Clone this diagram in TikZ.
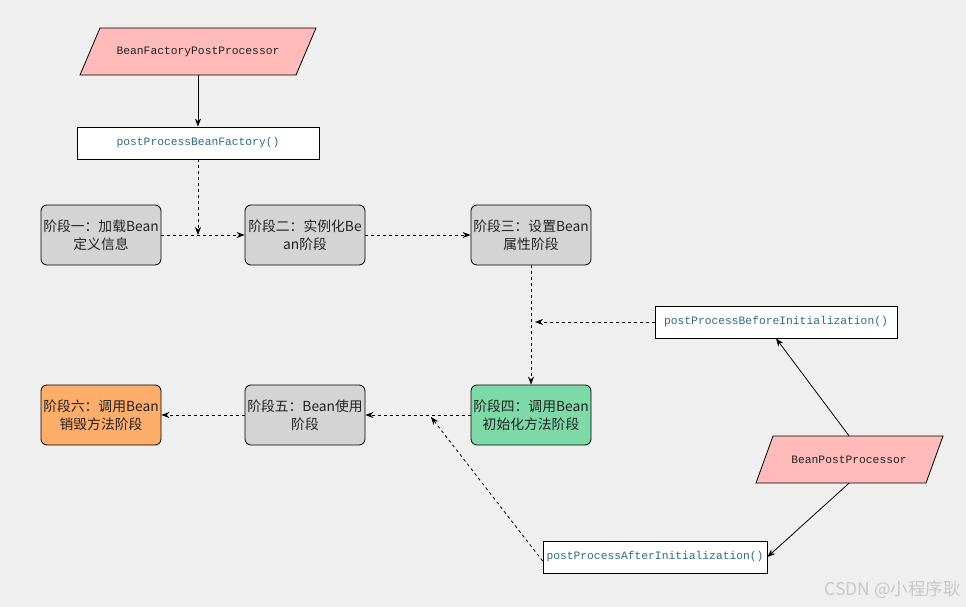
\documentclass[tikz,border=0pt]{standalone}
\usepackage{fontspec}
\setmainfont{Noto Sans CJK SC}
\setmonofont{Liberation Mono}
\usetikzlibrary{arrows.meta}
\definecolor{bgc}{HTML}{EFEFEF}
\definecolor{pinkc}{HTML}{FFBABA}
\definecolor{grayc}{HTML}{D4D4D4}
\definecolor{greenc}{HTML}{7DDAA8}
\definecolor{orangec}{HTML}{FFAD6A}
\definecolor{tealc}{HTML}{2D6C84}
\definecolor{txtc}{HTML}{222222}
\definecolor{wmc}{HTML}{C8C8C8}
\tikzset{
  stage/.style={draw=black, line width=0.8pt, rounded corners=6pt, minimum width=120pt, minimum height=60pt, inner sep=0pt, align=center, text=txtc, font=\fontsize{13.8}{18}\selectfont},
  method/.style={draw=black, fill=white, line width=0.8pt, minimum height=32pt, inner sep=0pt, text=tealc, font=\ttfamily\fontsize{11.3}{13}\selectfont},
  paratext/.style={inner sep=0pt, minimum height=47pt, text=txtc, font=\ttfamily\fontsize{11.3}{13}\selectfont},
  para/.style={draw=black, fill=pinkc, line width=0.8pt},
  solidarrow/.style={draw=black, line width=0.8pt, -{Stealth[length=8pt,width=6pt]}},
  dasharrow/.style={draw=black, line width=0.8pt, dashed, -{Stealth[length=8pt,width=6pt]}},
}
\begin{document}
\begin{tikzpicture}[x=1pt,y=-1pt]
\fill[bgc] (0,0) rectangle (966,607);
\useasboundingbox (0,0) rectangle (966,607);

% parallelograms
\filldraw[para] (100,28) -- (316,28) -- (296,75) -- (80,75) -- cycle;
\node[paratext] (bfpp) at (198,51.5) {BeanFactoryPostProcessor};
\filldraw[para] (773,436) -- (943,436) -- (926,483) -- (756,483) -- cycle;
\node[paratext] (bpp) at (849,459.5) {BeanPostProcessor};

% method boxes
\node[method, minimum width=242pt] (pbf) at (198,143) {postProcessBeanFactory()};
\node[method, minimum width=242pt] (pbi) at (776,322) {postProcessBeforeInitialization()};
\node[method, minimum width=224pt] (pai) at (655,557) {postProcessAfterInitialization()};

% stages
\node[stage, fill=grayc] (s1) at (101,235) {阶段一：加载Bean\\定义信息};
\node[stage, fill=grayc] (s2) at (305,235) {阶段二：实例化Be\\an阶段};
\node[stage, fill=grayc] (s3) at (531,235) {阶段三：设置Bean\\属性阶段};
\node[stage, fill=greenc] (s4) at (531,415) {阶段四：调用Bean\\初始化方法阶段};
\node[stage, fill=grayc] (s5) at (305,415) {阶段五：Bean使用\\阶段};
\node[stage, fill=orangec] (s6) at (101,415) {阶段六：调用Bean\\销毁方法阶段};

% helper coordinates
\coordinate (m1) at (pbf.south |- s1.east);
\coordinate (m2) at ([xshift=4pt]s3.south |- pbi.west);
\coordinate (m3) at (431,417);

% connectors
\draw[solidarrow] (bfpp.south) -- (pbf.north);
\draw[dasharrow] (pbf.south) -- (m1);
\draw[dasharrow] (s1.east) -- (s2.west);
\draw[dasharrow] (s2.east) -- (s3.west);
\draw[dasharrow] (s3.south) -- (s4.north);
\draw[dasharrow] (pbi.west) -- (m2);
\draw[solidarrow] (bpp.north) -- (pbi.south);
\draw[solidarrow] (bpp.south) -- (pai.east);
\draw[dasharrow] (s4.west) -- (s5.east);
\draw[dasharrow] (s5.west) -- (s6.east);
\draw[dasharrow] ([yshift=-4pt]pai.west) -- (m3);

% watermark
\node[anchor=east, text=wmc, inner sep=0pt, font=\fontsize{17.5}{17.5}\selectfont] (wm) at (961,590) {CSDN @小程序耿};
\end{tikzpicture}
\end{document}
